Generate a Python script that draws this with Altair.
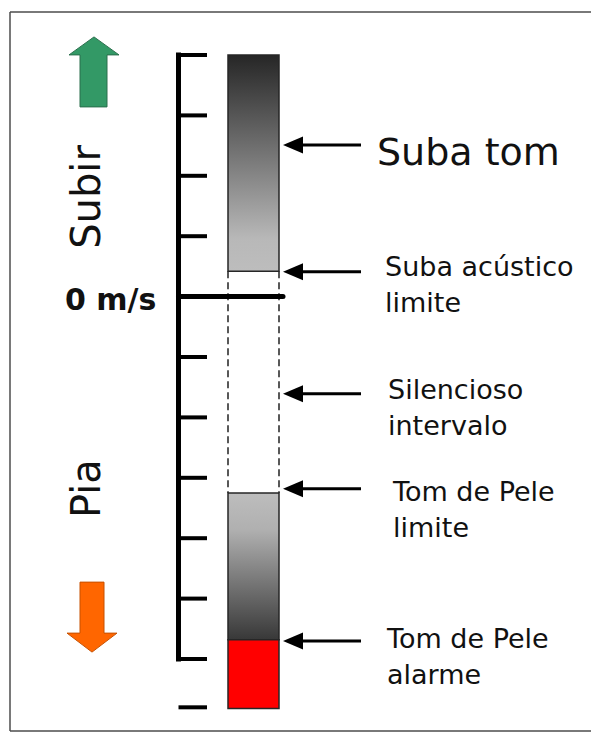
import altair as alt
import pandas as pd

# ---------------- values (vertical speed, m/s) ----------------
tick_levels = [4, 3, 2, 1, -1, -2, -3, -4, -5, -6, -6.8]
zero_level = [0]
climb_tone = [0.42, 4.0]          # climb tone band (gradient bar, top)
silent_band = [-3.25, 0.42]       # silent interval (dashed)
sink_tone = [-5.68, -3.25]        # sink tone band (gradient bar, bottom)
sink_alarm = [-6.82, -5.68]       # sink alarm band (red)
arrow_levels = [2.51, 0.41, -1.61, -3.18, -5.70]
arrow_texts = ["Suba tom", "Suba acústico\nlimite", "Silencioso\nintervalo",
               "Tom de Pele\nlimite", "Tom de Pele\nalarme"]
direction_texts = ["Subir", "Pia"]
direction_levels = [1.65, -3.18]
direction_arrow_levels = [3.72, -5.29]
zero_text = ["0 m/s"]

# ---------------- layout ----------------
W, H = 583, 724
PX = 60.4            # pixels per m/s
ZERO_PY = 296.6      # page y of 0 m/s


def v_of(py):
    return (ZERO_PY - py) / PX


AXIS_X, TICK_X = 178.5, 207
BAR_L, BAR_R = 228, 279
ZERO_END = 283
ARROW_TIP, ARROW_END = 283, 361
LABEL_X = [377, 385, 388, 393, 387]
LABEL_DY = [20, 4, 5, 12, 7]
LABEL_SIZE = [38, 27, 27, 27, 27]
FONT = "DejaVu Sans"
INK = "#111111"

XS = alt.Scale(domain=[8, 8 + W], range=[0, W], nice=False, zero=False)
YS = alt.Scale(domain=[v_of(8 + H), v_of(8)], nice=False, zero=False)


def ex(f):
    return alt.X(f"{f}:Q", scale=XS, axis=None)


def ey(f):
    return alt.Y(f"{f}:Q", scale=YS, axis=None)


layers = []

# frame (left, top, bottom; open on the right like the cropped original)
frame_h = pd.DataFrame({"x": [10, 10], "x2": [8 + W, 8 + W], "y": [v_of(12), v_of(731)]})
layers.append(alt.Chart(frame_h).mark_rule(color="#4d4d4d", strokeWidth=1.5)
              .encode(x=ex("x"), x2="x2", y=ey("y")))
frame_v = pd.DataFrame({"x": [10], "y": [v_of(12)], "y2": [v_of(731)]})
layers.append(alt.Chart(frame_v).mark_rule(color="#4d4d4d", strokeWidth=1.5)
              .encode(x=ex("x"), y=ey("y"), y2="y2"))

# dashed silent interval
dash = pd.DataFrame({"x": [BAR_L, BAR_R], "y": [silent_band[1]] * 2, "y2": [silent_band[0]] * 2})
layers.append(alt.Chart(dash).mark_rule(color="#222222", strokeWidth=1.5, strokeDash=[7, 4])
              .encode(x=ex("x"), y=ey("y"), y2="y2"))

# spine
spine = pd.DataFrame({"x": [AXIS_X], "y": [max(tick_levels)], "y2": [-6]})
layers.append(alt.Chart(spine).mark_rule(color="black", strokeWidth=5, strokeCap="square")
              .encode(x=ex("x"), y=ey("y"), y2="y2"))

# ticks
ticks = pd.DataFrame({"y": tick_levels, "x": AXIS_X, "x2": TICK_X})
layers.append(alt.Chart(ticks).mark_rule(color="black", strokeWidth=4)
              .encode(x=ex("x"), x2="x2", y=ey("y")))

# bars
grad_up = alt.Gradient(gradient="linear", x1=0, x2=0, y1=0, y2=1,
                       stops=[alt.GradientStop(color="#262626", offset=0),
                              alt.GradientStop(color="#b8b8b8", offset=0.85),
                              alt.GradientStop(color="#bdbdbd", offset=1)])
grad_dn = alt.Gradient(gradient="linear", x1=0, x2=0, y1=0, y2=1,
                       stops=[alt.GradientStop(color="#bdbdbd", offset=0),
                              alt.GradientStop(color="#b0b0b0", offset=0.25),
                              alt.GradientStop(color="#383838", offset=1)])
for band, fill in [(climb_tone, grad_up), (sink_tone, grad_dn), (sink_alarm, "#ff0000")]:
    d = pd.DataFrame({"x": [BAR_L], "x2": [BAR_R], "y": [band[1]], "y2": [band[0]]})
    layers.append(alt.Chart(d).mark_rect(fill=fill, stroke="#262626", strokeWidth=1.5)
                  .encode(x=ex("x"), x2="x2", y=ey("y"), y2="y2"))

# zero line
zero = pd.DataFrame({"y": zero_level, "x": AXIS_X, "x2": ZERO_END})
layers.append(alt.Chart(zero).mark_rule(color="black", strokeWidth=5, strokeCap="round")
              .encode(x=ex("x"), x2="x2", y=ey("y")))

# pointer arrows
arr = pd.DataFrame({"y": arrow_levels, "x": ARROW_TIP + 15, "x2": ARROW_END, "tip": ARROW_TIP})
layers.append(alt.Chart(arr).mark_rule(color="black", strokeWidth=3)
              .encode(x=ex("x"), x2="x2", y=ey("y")))
layers.append(alt.Chart(arr).mark_point(shape="M0,0L20,-8.5L20,8.5Z", size=4, filled=True,
                                        color="black", opacity=1)
              .encode(x=ex("tip"), y=ey("y")))

# labels
for i, (t, lv) in enumerate(zip(arrow_texts, arrow_levels)):
    d = pd.DataFrame({"t": [t], "y": [lv], "x": [LABEL_X[i]]})
    layers.append(alt.Chart(d).mark_text(align="left", baseline="alphabetic", dy=LABEL_DY[i],
                                         fontSize=LABEL_SIZE[i], font=FONT, color=INK,
                                         lineBreak="\n", lineHeight=36)
                  .encode(x=ex("x"), y=ey("y"), text="t:N"))

# 0 m/s
z = pd.DataFrame({"t": zero_text, "y": zero_level, "x": [65]})
layers.append(alt.Chart(z).mark_text(align="left", baseline="alphabetic", dy=13, fontSize=30,
                                     font=FONT, fontWeight="bold", color=INK)
              .encode(x=ex("x"), y=ey("y"), text="t:N"))

# direction labels (rotated)
dl = pd.DataFrame({"t": direction_texts, "y": direction_levels, "x": 100})
layers.append(alt.Chart(dl).mark_text(align="center", baseline="alphabetic", angle=270,
                                      fontSize=40, font=FONT, color=INK)
              .encode(x=ex("x"), y=ey("y"), text="t:N"))

# direction arrows
up = pd.DataFrame({"y": [direction_arrow_levels[0]], "x": [94]})
layers.append(alt.Chart(up).mark_point(
    shape="M0,-35L25,-17L13,-17L13,35L-14,35L-14,-17L-25,-17Z", size=4, filled=True,
    fill="#339966", stroke="#2a6f4c", strokeWidth=1, opacity=1)
    .encode(x=ex("x"), y=ey("y")))
dn = pd.DataFrame({"y": [direction_arrow_levels[1]], "x": [92]})
layers.append(alt.Chart(dn).mark_point(
    shape="M-12,-34L12,-34L12,17L25,17L0,36L-25,17L-12,17Z", size=4, filled=True,
    fill="#ff6600", stroke="#c65000", strokeWidth=1, opacity=1)
    .encode(x=ex("x"), y=ey("y")))

chart = (alt.layer(*layers)
         .properties(width=W, height=H, padding=0, autosize=alt.AutoSizeParams(type="none"))
         .configure_view(strokeWidth=0))

chart.save("out.html", embed_options={"renderer": "svg", "actions": False})
